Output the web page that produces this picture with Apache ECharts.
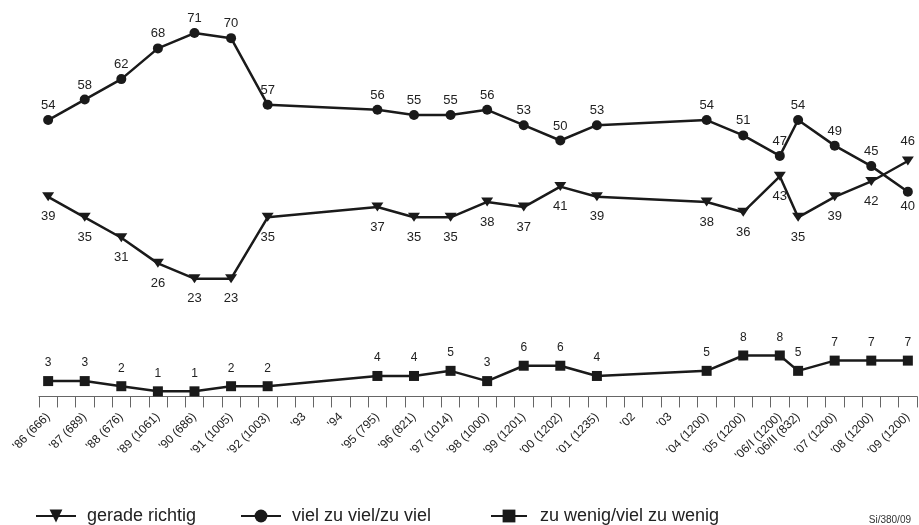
<!DOCTYPE html>
<html><head><meta charset="utf-8">
<script src="https://cdn.jsdelivr.net/npm/echarts@6/dist/echarts.min.js"></script>
<style>html,body{margin:0;padding:0;background:#fff}#c{width:919px;height:525px}</style>
</head><body><div id="c"></div>
<script>
// Tick labels for each half-year slot of the axis ('' = unlabeled slot)
const slotLabels = [
  "'86 (666)","","'87 (689)","","'88 (676)","","'89 (1061)","","'90 (686)","","'91 (1005)","","'92 (1003)","",
  "'93","","'94","","'95 (795)","","'96 (821)","","'97 (1014)","","'98 (1000)","","'99 (1201)","","'00 (1202)","",
  "'01 (1235)","","'02","","'03","","'04 (1200)","","'05 (1200)","","'06/I (1200)","'06/II (832)","","'07 (1200)","","'08 (1200)","","'09 (1200)"
];
// Survey waves (in order)
const waves = ["'86 (666)","'87 (689)","'88 (676)","'89 (1061)","'90 (686)","'91 (1005)","'92 (1003)","'93","'94",
  "'95 (795)","'96 (821)","'97 (1014)","'98 (1000)","'99 (1201)","'00 (1202)","'01 (1235)","'02","'03",
  "'04 (1200)","'05 (1200)","'06/I (1200)","'06/II (832)","'07 (1200)","'08 (1200)","'09 (1200)"];
const geradeRichtig = [39,35,31,26,23,23,35,null,null,37,35,35,38,37,41,39,null,null,38,36,43,35,39,42,46];
const vielZuViel    = [54,58,62,68,71,70,57,null,null,56,55,55,56,53,50,53,null,null,54,51,47,54,49,45,40];
const zuWenig       = [3,3,2,1,1,2,2,null,null,4,4,5,3,6,6,4,null,null,5,8,8,5,7,7,7];
const seriesNames = ['gerade richtig','viel zu viel/zu viel','zu wenig/viel zu wenig'];

function toData(vals, lastPos){
  const out=[];
  vals.forEach((v,i)=>{
    if(v===null) return;
    const d={value:[slotLabels.indexOf(waves[i]), v]};
    if(lastPos && i===vals.length-1) d.label={position:lastPos};
    out.push(d);
  });
  return out;
}
const C='#1a1a1a';
const FONT='Liberation Sans, Arial, sans-serif';
const chart=echarts.init(document.getElementById('c'),null,{renderer:'canvas'});
const legendText={fontSize:18,color:'#222',fontFamily:FONT,padding:[0,0,0,6]};
chart.setOption({
  animation:false,
  backgroundColor:'#fff',
  title:{text:'Si/380/09',right:3,top:510,textStyle:{fontSize:10,fontWeight:'normal',color:'#333',fontFamily:FONT}},
  grid:{left:39,right:2,top:10,bottom:126,containLabel:false},
  xAxis:{type:'category',data:slotLabels,boundaryGap:true,
    axisLine:{lineStyle:{color:'#666',width:1}},
    axisTick:{show:true,interval:0,length:11,lineStyle:{color:'#666'}},
    axisLabel:{interval:0,rotate:45,margin:16,fontSize:12,color:'#222',fontFamily:FONT}
  },
  yAxis:{type:'value',min:-0.5,max:75.5,show:false,splitLine:{show:false}},
  legend:[
    {data:[seriesNames[0]],left:30,top:502,itemWidth:40,itemHeight:16,textStyle:legendText},
    {data:[seriesNames[1]],left:235,top:502,itemWidth:40,itemHeight:16,textStyle:legendText},
    {data:[seriesNames[2]],left:485,top:502,itemWidth:36,itemHeight:16,textStyle:Object.assign({},legendText,{padding:[0,0,0,8]})}
  ],
  series:[
    {name:seriesNames[0],type:'line',data:toData(geradeRichtig,'top'),symbol:'triangle',symbolRotate:180,symbolSize:[12,9],
      lineStyle:{color:C,width:2.5},itemStyle:{color:C},
      label:{show:true,position:'bottom',distance:9,fontSize:13,color:'#222',fontFamily:FONT,formatter:p=>p.value[1]}},
    {name:seriesNames[1],type:'line',data:toData(vielZuViel,'bottom'),symbol:'circle',symbolSize:10,
      lineStyle:{color:C,width:2.5},itemStyle:{color:C},
      label:{show:true,position:'top',distance:3,fontSize:13,color:'#222',fontFamily:FONT,formatter:p=>p.value[1]}},
    {name:seriesNames[2],type:'line',data:toData(zuWenig),symbol:'rect',symbolSize:10,
      lineStyle:{color:C,width:2.5},itemStyle:{color:C},
      label:{show:true,position:'top',distance:7,fontSize:12,color:'#222',fontFamily:FONT,formatter:p=>p.value[1]}}
  ]
});
</script></body></html>
